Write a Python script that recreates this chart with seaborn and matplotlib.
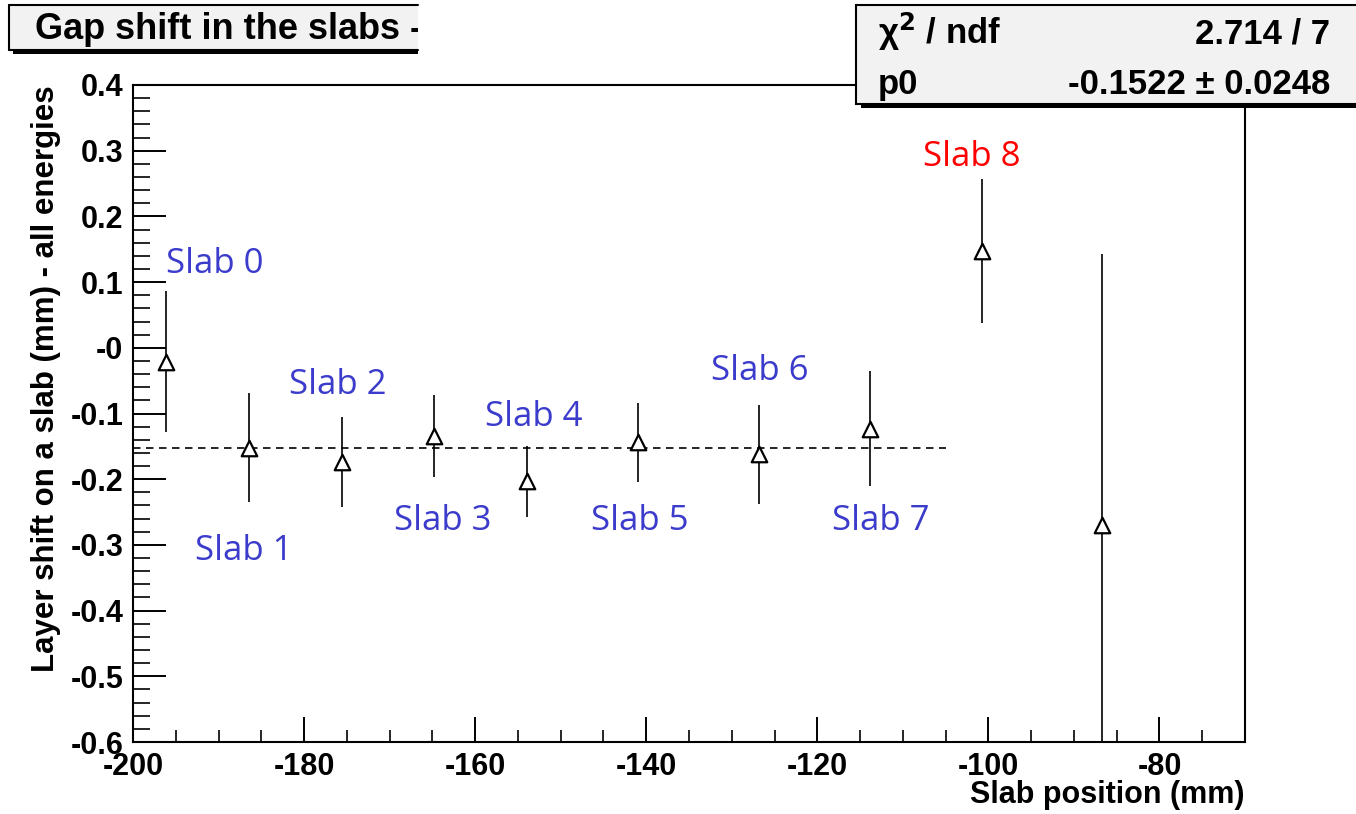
import matplotlib
matplotlib.use("Agg")
import matplotlib.pyplot as plt
import seaborn as sns
import pandas as pd
from matplotlib.patches import Rectangle
from matplotlib.lines import Line2D
from matplotlib.transforms import Bbox, TransformedBbox
from matplotlib.ticker import MultipleLocator, FixedLocator, FixedFormatter

# ---- measured layer shifts per slab ----
slab_names = ["Slab 0", "Slab 1", "Slab 2", "Slab 3", "Slab 4",
              "Slab 5", "Slab 6", "Slab 7", "Slab 8", "Slab 9"]
slab_pos = [-196.1, -186.4, -175.6, -164.8, -153.9,
            -141.0, -126.8, -113.8, -100.8, -86.7]
layer_shift = [-0.021, -0.152, -0.174, -0.134, -0.203,
               -0.144, -0.162, -0.123, 0.147, -0.269]
shift_err = [0.107, 0.083, 0.069, 0.062, 0.054,
             0.060, 0.075, 0.088, 0.110, 0.412]

# ---- constant fit (pol0) over the first eight slabs ----
fit_p0 = -0.1522
fit_p0_err = 0.0248
fit_chi2 = 2.714
fit_ndf = 7
fit_range = [-200.0, -105.0]

# ---- slab annotations ----
label_text = ["Slab 0", "Slab 1", "Slab 2", "Slab 3", "Slab 4",
              "Slab 5", "Slab 6", "Slab 7", "Slab 8"]
label_x = [-190.4, -187.0, -176.1, -163.8, -153.2, -140.8, -126.7, -112.6, -102.0]
label_y = [0.114, -0.323, -0.071, -0.278, -0.119, -0.278, -0.049, -0.278, 0.277]
label_color = ["#3b3bcc"] * 8 + ["#ff0000"]

y_tick_values = [-0.6, -0.5, -0.4, -0.3, -0.2, -0.1, 0.0, 0.1, 0.2, 0.3, 0.4]
y_tick_labels = ["-0.6", "-0.5", "-0.4", "-0.3", "-0.2", "-0.1", "-0",
                 "0.1", "0.2", "0.3", "0.4"]
x_tick_values = [-200, -180, -160, -140, -120, -100, -80]
x_tick_labels = ["-200", "-180", "-160", "-140", "-120", "-100", "-80"]

sns.set_theme(style="white")
plt.rcParams["font.family"] = ["Liberation Sans", "DejaVu Sans"]
plt.rcParams["font.weight"] = "bold"
plt.rcParams["axes.unicode_minus"] = False
plt.rcParams["mathtext.default"] = "regular"

W, H = 1356, 814
fig = plt.figure(figsize=(W / 100, H / 100), dpi=100)
fig.patch.set_facecolor("white")

def px(x, y):
    """pixel (from top-left) -> figure fraction"""
    return x / W, 1 - y / H

ax_left, ax_right, ax_top, ax_bottom = 133, 1245, 85, 742
ax = fig.add_axes([ax_left / W, 1 - ax_bottom / H,
                   (ax_right - ax_left) / W, (ax_bottom - ax_top) / H])
ax.set_facecolor("white")

df = pd.DataFrame({"pos": slab_pos, "shift": layer_shift, "err": shift_err,
                   "slab": slab_names})

# error bars (no caps)
ax.vlines(df["pos"], df["shift"] - df["err"], df["shift"] + df["err"],
          colors="black", linewidth=1.2, zorder=2)

# fit line over the fit range
ax.hlines(fit_p0, fit_range[0], fit_range[1], colors="black",
          linewidth=1.2, linestyles=(0, (4.5, 3.3)), zorder=1)

# open triangle markers
sns.scatterplot(data=df, x="pos", y="shift", marker="^", s=125,
                facecolor="white", edgecolor="black", linewidth=1.6,
                ax=ax, zorder=3, legend=False)

for t, x, y, c in zip(label_text, label_x, label_y, label_color):
    ax.text(x, y, t, color=c, fontsize=25, family=["Open Sans", "DejaVu Sans"],
            fontweight="normal", ha="center", va="baseline", zorder=4)

ax.set_xlim(-200, -70)
ax.set_ylim(-0.6, 0.4)
ax.set_xlabel("")
ax.set_ylabel("")

ax.xaxis.set_major_locator(FixedLocator(x_tick_values))
ax.xaxis.set_major_formatter(FixedFormatter(x_tick_labels))
ax.xaxis.set_minor_locator(MultipleLocator(5))
ax.yaxis.set_major_locator(FixedLocator(y_tick_values))
ax.yaxis.set_major_formatter(FixedFormatter(y_tick_labels))
ax.yaxis.set_minor_locator(MultipleLocator(0.02))

ax.tick_params(axis="y", which="major", direction="in", length=24, width=1.4,
               left=True, right=False, labelsize=22, pad=7, colors="black")
ax.tick_params(axis="y", which="minor", direction="in", length=12, width=1.4,
               left=True, right=False)
ax.tick_params(axis="x", which="major", direction="in", length=18, width=1.4,
               bottom=True, top=False, labelsize=22, pad=7, colors="black")
ax.tick_params(axis="x", which="minor", direction="in", length=9, width=1.4,
               bottom=True, top=False)
for lab in ax.get_xticklabels() + ax.get_yticklabels():
    lab.set_fontweight("bold")

for s in ax.spines.values():
    s.set_visible(True)
    s.set_color("black")
    s.set_linewidth(1.5)

# axis titles, right/top aligned as in ROOT
fig.text(*px(1244, 803), "Slab position (mm)", ha="right", va="baseline",
         fontsize=22, fontweight="bold", color="black")
fig.text(*px(46, 85), "Layer shift on a slab (mm) - all energies", rotation=90,
         ha="center", va="top", fontsize=22.5, fontweight="bold", color="black")

# ---- title pave (clipped at its right edge) ----
box_fc = "#f2f2f2"
tl, tr, tt, tb = 9, 418, 5, 50
fig.patches.append(Rectangle(px(tl + 4, tb + 4), (tr - tl - 4) / W, 4 / H,
                             transform=fig.transFigure, facecolor="black",
                             edgecolor="none", zorder=5))
fig.patches.append(Rectangle(px(tl, tb), (tr - tl) / W, (tb - tt) / H,
                             transform=fig.transFigure, facecolor=box_fc,
                             edgecolor="none", zorder=6))
for xs, ys in [((tl, tl), (tt, tb)), ((tl, tr), (tt, tt)), ((tl, tr), (tb, tb))]:
    fig.lines.append(Line2D([x / W for x in xs], [1 - y / H for y in ys],
                            transform=fig.transFigure, color="black",
                            linewidth=1.5, zorder=7))
title = fig.text(*px(35, 39), "Gap shift in the slabs - all energies",
                 ha="left", va="baseline", fontsize=26, fontweight="bold",
                 color="black", zorder=8)
title.set_clip_on(True)
title.set_clip_box(TransformedBbox(Bbox([[tl / W, 1 - tb / H], [tr / W, 1 - tt / H]]),
                                   fig.transFigure))

# ---- fit statistics pave ----
sl, sr, st, sb = 856, 1362, 5, 104
fig.patches.append(Rectangle(px(sl + 5, sb + 4), (sr - sl) / W, 4 / H,
                             transform=fig.transFigure, facecolor="black",
                             edgecolor="none", zorder=5))
fig.patches.append(Rectangle(px(sl, sb), (sr - sl) / W, (sb - st) / H,
                             transform=fig.transFigure, facecolor=box_fc,
                             edgecolor="black", linewidth=1.5, zorder=6))
stat_fs = 25
fig.text(*px(878, 44), r"$\chi^{\mathbf{2}}$ / ndf", ha="left", va="baseline",
         fontsize=stat_fs, fontweight="bold", color="black", zorder=8)
fig.text(*px(1330, 44), f"{fit_chi2:.3f} / {fit_ndf}", ha="right", va="baseline",
         fontsize=stat_fs, fontweight="bold", color="black", zorder=8)
fig.text(*px(878, 94), "p0", ha="left", va="baseline",
         fontsize=stat_fs, fontweight="bold", color="black", zorder=8)
fig.text(*px(1330, 94), f"{fit_p0:.4f} \u00b1 {fit_p0_err:.4f}", ha="right",
         va="baseline", fontsize=stat_fs, fontweight="bold", color="black", zorder=8)

fig.savefig("out.png", dpi=100, facecolor="white")
